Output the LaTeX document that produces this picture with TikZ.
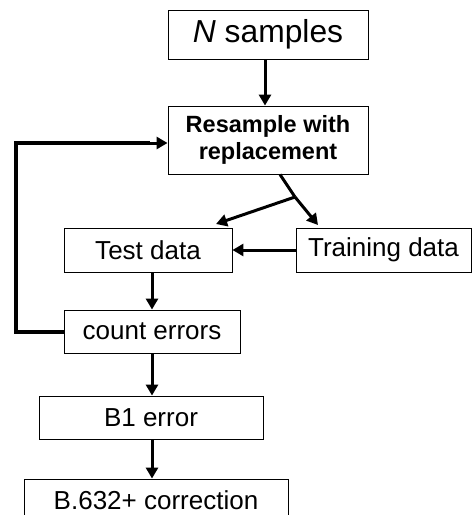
\documentclass[tikz,border=0pt]{standalone}
\usepackage{fontspec}
\setmainfont{Liberation Sans}
\usetikzlibrary{arrows.meta}
\begin{document}
\begin{tikzpicture}[x=1pt,y=-1pt,
  box/.style={draw, line width=0.9pt, rectangle, inner sep=0pt, align=center,
    font=\fontsize{26}{30}\selectfont},
  flow/.style={line width=3pt, -{Triangle[length=11pt,width=12pt]}},
  loop/.style={line width=4pt}]
\useasboundingbox (0,0) rectangle (472,515);
\clip (0,0) rectangle (472,515);
\node[box, minimum width=200, minimum height=49, font=\fontsize{31.8}{36}\selectfont]
  (nsamp) at (268,34.5) {\textit{N} samples};
\node[box, minimum width=200, minimum height=68, font=\fontsize{23.5}{26.5}\selectfont\bfseries]
  (resamp) at (268,140) {Resample with\\replacement};
\node[box, minimum width=168, minimum height=44] (test) at (148,250) {Test data};
\node[box, minimum width=175, minimum height=44] (train) at (383.5,250) {Training data};
\node[box, minimum width=176, minimum height=43] (count) at (152,331.5) {count errors};
\node[box, minimum width=224, minimum height=43] (b1) at (151,417.5) {B1 error};
\node[box, minimum width=264, minimum height=42] (corr) at (156,500) {B.632+ correction};

\coordinate (split) at (295,197);
\coordinate (loopbot) at (16,331.5);
\coordinate (looptop) at (16,143);

\draw[flow] (nsamp.south -| 265,0) -- (resamp.north -| 265,0);
\draw[line width=3pt] (resamp.south -| 280,0) -- (split);
\draw[flow] (split) -- (318,225);
\draw[flow] (split) -- (216,224);
\draw[flow] (train.west) -- (test.east);
\draw[flow] (test.south -| 152,0) -- (count.north -| 152,0);
\draw[loop] (count.west) -- (loopbot) -- (looptop) -- (looptop -| 150,0);
\draw[flow] (looptop -| 148,0) -- (resamp.west |- looptop);
\draw[flow] (count.south -| 152,0) -- (b1.north -| 152,0);
\draw[flow] (b1.south -| 152,0) -- (corr.north -| 152,0);
\end{tikzpicture}
\end{document}
